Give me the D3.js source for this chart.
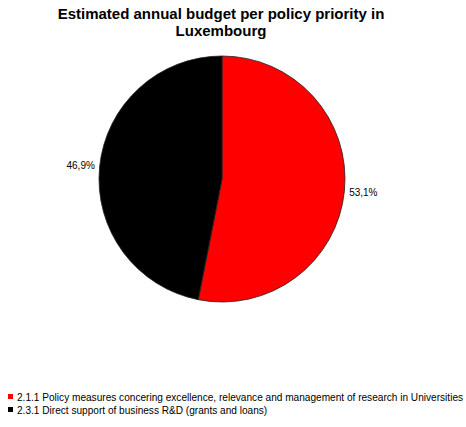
<!DOCTYPE html>
<html>
<head>
<meta charset="utf-8">
<script src="https://cdn.jsdelivr.net/npm/d3@7"></script>
<style>
  body { margin: 0; background: #fff; }
  svg { display: block; font-family: "Liberation Sans", Arial, sans-serif; }
</style>
</head>
<body>
<script>
// chart data
var categories = [
  "2.1.1 Policy measures concering excellence, relevance and management of research in Universities",
  "2.3.1 Direct support of business R&D (grants and loans)"
];
var values = [53.1, 46.9];
var labels = ["53,1%", "46,9%"];
var colors = ["#ff0000", "#000000"];
var titleLines = ["Estimated annual budget per policy priority in", "Luxembourg"];

var width = 466, height = 427;
var cx = 222, cy = 179, radius = 123;

var svg = d3.select("body").append("svg")
    .attr("width", width)
    .attr("height", height);

// title
svg.append("g").selectAll("text")
    .data(titleLines)
    .enter().append("text")
    .attr("x", 221)
    .attr("y", function(d, i) { return 19 + i * 17; })
    .attr("text-anchor", "middle")
    .style("font-size", "15px")
    .style("font-weight", "bold")
    .text(function(d) { return d; });

var pie = d3.pie().sort(null).value(function(d) { return d; });
var arc = d3.arc().innerRadius(0).outerRadius(radius);
var arcs = pie(values);

var g = svg.append("g")
    .attr("transform", "translate(" + cx + "," + cy + ")");

g.selectAll("path")
    .data(arcs)
    .enter().append("path")
    .attr("d", arc)
    .style("fill", function(d, i) { return colors[i]; })
    .style("stroke", "#222")
    .style("stroke-width", 0.8);

// percentage labels outside the pie
var labelArc = d3.arc().innerRadius(radius + 19).outerRadius(radius + 19);
g.selectAll(".pct")
    .data(arcs)
    .enter().append("text")
    .attr("class", "pct")
    .attr("x", function(d) { return labelArc.centroid(d)[0]; })
    .attr("y", function(d) { return labelArc.centroid(d)[1]; })
    .attr("text-anchor", "middle")
    .attr("dy", "0.35em")
    .style("font-size", "10px")
    .text(function(d, i) { return labels[i]; });

// legend
var legend = svg.append("g").selectAll("g")
    .data(categories)
    .enter().append("g")
    .attr("transform", function(d, i) { return "translate(8," + (397 + i * 13) + ")"; });

legend.append("rect")
    .attr("x", 0).attr("y", -3)
    .attr("width", 5).attr("height", 5)
    .style("fill", function(d, i) { return colors[i]; });

legend.append("text")
    .attr("x", 9)
    .attr("y", 0)
    .attr("dy", "0.35em")
    .style("font-size", "10.1px")
    .text(function(d) { return d; });
</script>
</body>
</html>
